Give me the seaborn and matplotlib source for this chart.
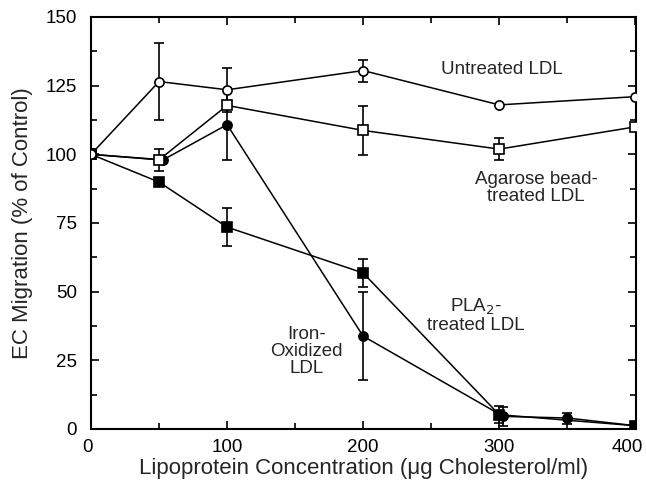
import matplotlib
matplotlib.use("Agg")
import matplotlib.pyplot as plt
from matplotlib.ticker import MultipleLocator
from matplotlib.transforms import ScaledTranslation
import seaborn as sns
import pandas as pd

# --- data ---
untreated_x = [0, 50, 100, 200, 300, 400]
untreated_y = [100, 126.5, 123.5, 130.5, 118, 121]
untreated_err = [0, 14, 8, 4, 0, 0]

agarose_x = [0, 50, 100, 200, 300, 400]
agarose_y = [100, 98, 117.8, 108.7, 101.9, 110]
agarose_err = [0, 4, 0, 9, 4, 0]

pla2_x = [0, 50, 100, 200, 300, 400]
pla2_y = [100, 89.9, 73.5, 56.8, 5.2, 1.2]
pla2_err = [0, 0, 7, 5.2, 3, 0]

iron_x = [0, 53, 100, 200, 303, 350, 400]
iron_y = [100, 98, 110.8, 33.8, 4.6, 4.0, 1.2]
iron_err = [0, 0, 12.8, 16, 3.5, 2, 0]

x_ticks = [0, 100, 200, 300, 400]
y_ticks = [0, 25, 50, 75, 100, 125, 150]

sns.set_style("ticks")
plt.rcParams["font.family"] = ["Liberation Sans", "DejaVu Sans"]

fig = plt.figure(figsize=(6.46, 4.87), dpi=100)
ax = fig.add_axes([0.1409, 0.1191, 0.8436, 0.846])

series = [
    ("Iron", iron_x, iron_y, iron_err, "o", "black", 6.6),
    ("PLA2", pla2_x, pla2_y, pla2_err, "s", "black", 7.0),
    ("Agarose", agarose_x, agarose_y, agarose_err, "s", "white", 7.0),
    ("Untreated", untreated_x, untreated_y, untreated_err, "o", "white", 6.6),
]

for name, xs, ys, es, mk, fc, ms in series:
    df = pd.DataFrame({"x": xs, "y": ys})
    xe = [x for x, e in zip(xs, es) if e > 0]
    ye = [y for y, e in zip(ys, es) if e > 0]
    ee = [e for e in es if e > 0]
    ax.errorbar(xe, ye, yerr=ee, fmt="none", ecolor="black", elinewidth=1.2,
                capsize=3.5, capthick=1.2, zorder=2)
    sns.lineplot(data=df, x="x", y="y", ax=ax, color="black", linewidth=1.1,
                 marker=mk, markersize=ms, markerfacecolor=fc,
                 markeredgecolor="black", markeredgewidth=1.2,
                 legend=False, zorder=3, sort=False)

ax.set_xlim(0, 400.5)
ax.set_ylim(0, 150)
ax.set_xticks(x_ticks)
ax.set_yticks(y_ticks)
ax.xaxis.set_minor_locator(MultipleLocator(50))
ax.yaxis.set_minor_locator(MultipleLocator(12.5))
ax.tick_params(which="both", direction="in", top=True, right=True,
               labelsize=13.5, width=1.2, colors="black")
ax.tick_params(which="major", length=6)
ax.tick_params(which="minor", length=4)
ax.tick_params(axis="x", pad=7)
ax.tick_params(axis="y", pad=10)
for s in ax.spines.values():
    s.set_linewidth(1.5)
    s.set_color("black")

# nudge the first and last x tick labels like in the reference
fig.canvas.draw()
xl = ax.get_xticklabels()
xl[-1].set_transform(xl[-1].get_transform() + ScaledTranslation(-8 / 100, 0, fig.dpi_scale_trans))
xl[0].set_transform(xl[0].get_transform() + ScaledTranslation(-4 / 100, 0, fig.dpi_scale_trans))

ax.set_xlabel("Lipoprotein Concentration (\u03bcg Cholesterol/ml)", fontsize=16, labelpad=2)
ax.set_ylabel("EC Migration (% of Control)", fontsize=16, labelpad=9)

ax.text(302, 131, "Untreated LDL", fontsize=13.5, ha="center", va="center")
ax.text(327, 87.7, "Agarose bead-\ntreated LDL", fontsize=13.5, ha="center",
        va="center", linespacing=1.0)
ax.text(283, 41.5, "PLA$_2$-\ntreated LDL", fontsize=13.5, ha="center",
        va="center", linespacing=1.0)
ax.text(158.5, 28.1, "Iron-\nOxidized\nLDL", fontsize=13.5, ha="center",
        va="center", linespacing=1.0)

fig.savefig("out.png", dpi=100)
